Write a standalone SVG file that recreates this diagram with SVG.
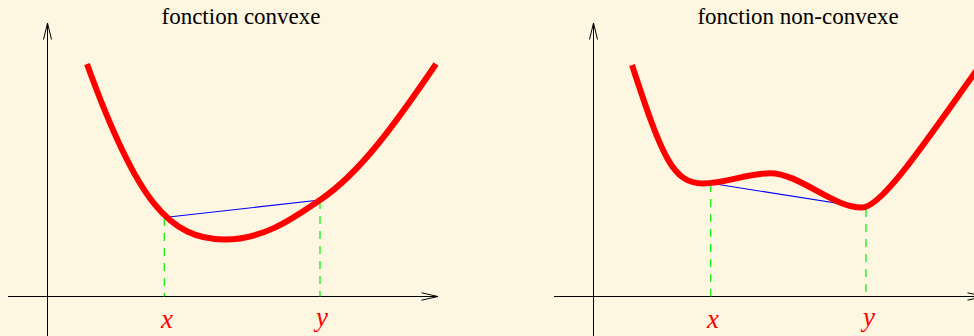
<svg xmlns="http://www.w3.org/2000/svg" width="974" height="336" viewBox="0 0 974 336">
  <style>
    .axis { stroke: #000; stroke-width: 1; fill: none; }
    .guide { stroke: #00ee00; stroke-width: 1.2; stroke-dasharray: 8 7; fill: none; }
    .chord { stroke: #0000ff; stroke-width: 1.1; fill: none; }
    .curve { stroke: #ff0000; stroke-width: 6; fill: none; stroke-linecap: butt; stroke-linejoin: round; }
    .title { font-family: "Liberation Serif", "Times New Roman", serif; font-size: 23px; fill: #000; text-anchor: middle; }
    .var { font-family: "Liberation Serif", "Times New Roman", serif; font-style: italic; font-size: 27px; fill: #ff0000; text-anchor: middle; }
  </style>
  <rect x="0" y="0" width="974" height="336" fill="#fdf6e0"/>

  <g id="panel-convexe">
    <text class="title" x="241" y="23.5">fonction convexe</text>
    <g id="axes-left">
      <path class="axis" d="M47.5,336 V23 M43.5,39.5 L47.5,23 L51.5,39.5"/>
      <path class="axis" d="M8,296.5 H438 M421.5,292.8 L438,296.5 L421.5,300.2"/>
    </g>
    <g id="guides-left">
      <path class="guide" d="M164.3,218 V296.5"/>
      <path class="guide" d="M320,201 V296.5"/>
    </g>
    <path id="chord-left" class="chord" d="M164.3,217.5 L320,200"/>
    <path id="curve-left" class="curve" d="M87,64 C137,202.5 170,239.5 225,239.5 C265,239.5 295,216.75 320,200 C360,173.2 396,122.8 436,64"/>
    <text class="var" x="167" y="328">x</text>
    <text class="var" x="322" y="326">y</text>
  </g>

  <g id="panel-non-convexe">
    <text class="title" x="798" y="24">fonction non-convexe</text>
    <g id="axes-right">
      <path class="axis" d="M593.5,336 V23 M589.5,39.5 L593.5,23 L597.5,39.5"/>
      <path class="axis" d="M554,296.5 H984 M967.5,292.8 L984,296.5 L967.5,300.2"/>
    </g>
    <g id="guides-right">
      <path class="guide" d="M710.7,184 V296.5"/>
      <path class="guide" d="M866,209 V296.5"/>
    </g>
    <path id="chord-right" class="chord" d="M710.7,183.3 L866,207.8"/>
    <path id="curve-right" class="curve" d="M632,65 C662,156.8 673,183.5 703,183.5 C725,183.5 748,173.3 770,173.3 C800,173.3 832,207.5 862,207.5 C882,207.5 926,141 981,64"/>
    <text class="var" x="713" y="328">x</text>
    <text class="var" x="869" y="326">y</text>
  </g>
</svg>
